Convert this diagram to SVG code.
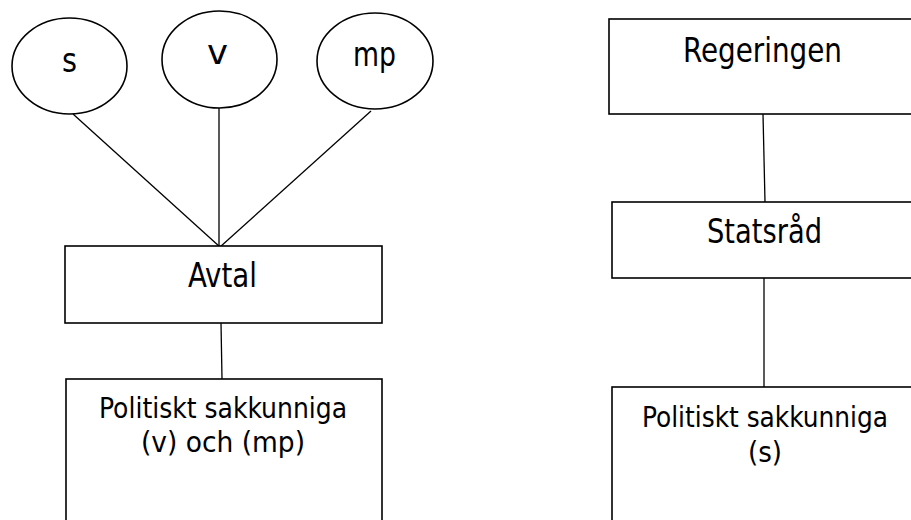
<svg xmlns="http://www.w3.org/2000/svg" width="911" height="520" viewBox="0 0 911 520">
<style>
.shape{fill:#fff;stroke:#000;stroke-width:1.6}
.edge{stroke:#000;stroke-width:1.3;fill:none}
.t{font-family:"DejaVu Sans Condensed","DejaVu Sans",Tahoma,sans-serif;font-size:34px;fill:#000;text-anchor:middle}
.s{font-size:28px}
</style>
<rect width="911" height="520" fill="#fff"/>
<g id="connectors">
<line class="edge" x1="73" y1="114" x2="220" y2="247"/>
<line class="edge" x1="219" y1="108" x2="219" y2="247"/>
<line class="edge" x1="371" y1="111" x2="220" y2="247"/>
<line class="edge" x1="221" y1="323" x2="222" y2="379"/>
<line class="edge" x1="763" y1="114" x2="765" y2="202"/>
<line class="edge" x1="764" y1="278" x2="764" y2="387"/>
</g>
<g id="node-s">
<ellipse class="shape" cx="69.5" cy="66" rx="57.5" ry="48"/>
<text class="t" x="69.5" y="72" textLength="15" lengthAdjust="spacingAndGlyphs">s</text>
</g>
<g id="node-v">
<ellipse class="shape" cx="219.5" cy="59.5" rx="57.5" ry="48.5"/>
<text class="t" x="217.5" y="64" textLength="21" lengthAdjust="spacingAndGlyphs">v</text>
</g>
<g id="node-mp">
<ellipse class="shape" cx="375" cy="61" rx="58" ry="48"/>
<text class="t" x="374.5" y="66" textLength="43" lengthAdjust="spacingAndGlyphs">mp</text>
</g>
<g id="node-avtal">
<rect class="shape" x="65" y="246" width="317" height="77"/>
<text class="t" x="222.5" y="287" textLength="69" lengthAdjust="spacingAndGlyphs">Avtal</text>
</g>
<g id="node-pol-vmp">
<rect class="shape" x="66" y="379" width="316" height="170"/>
<text class="t s" x="223" y="418" textLength="248" lengthAdjust="spacingAndGlyphs">Politiskt sakkunniga</text>
<text class="t s" x="223" y="452" textLength="164" lengthAdjust="spacingAndGlyphs">(v) och (mp)</text>
</g>
<g id="node-regeringen">
<rect class="shape" x="609" y="19" width="330" height="95"/>
<text class="t" x="762.5" y="62" textLength="159" lengthAdjust="spacingAndGlyphs">Regeringen</text>
</g>
<g id="node-statsrad">
<rect class="shape" x="612" y="202" width="330" height="76"/>
<text class="t" x="764.5" y="243" textLength="115" lengthAdjust="spacingAndGlyphs">Statsråd</text>
</g>
<g id="node-pol-s">
<rect class="shape" x="612" y="387" width="330" height="170"/>
<text class="t s" x="765" y="427" textLength="246" lengthAdjust="spacingAndGlyphs">Politiskt sakkunniga</text>
<text class="t s" x="765" y="462" textLength="34" lengthAdjust="spacingAndGlyphs">(s)</text>
</g>
</svg>
